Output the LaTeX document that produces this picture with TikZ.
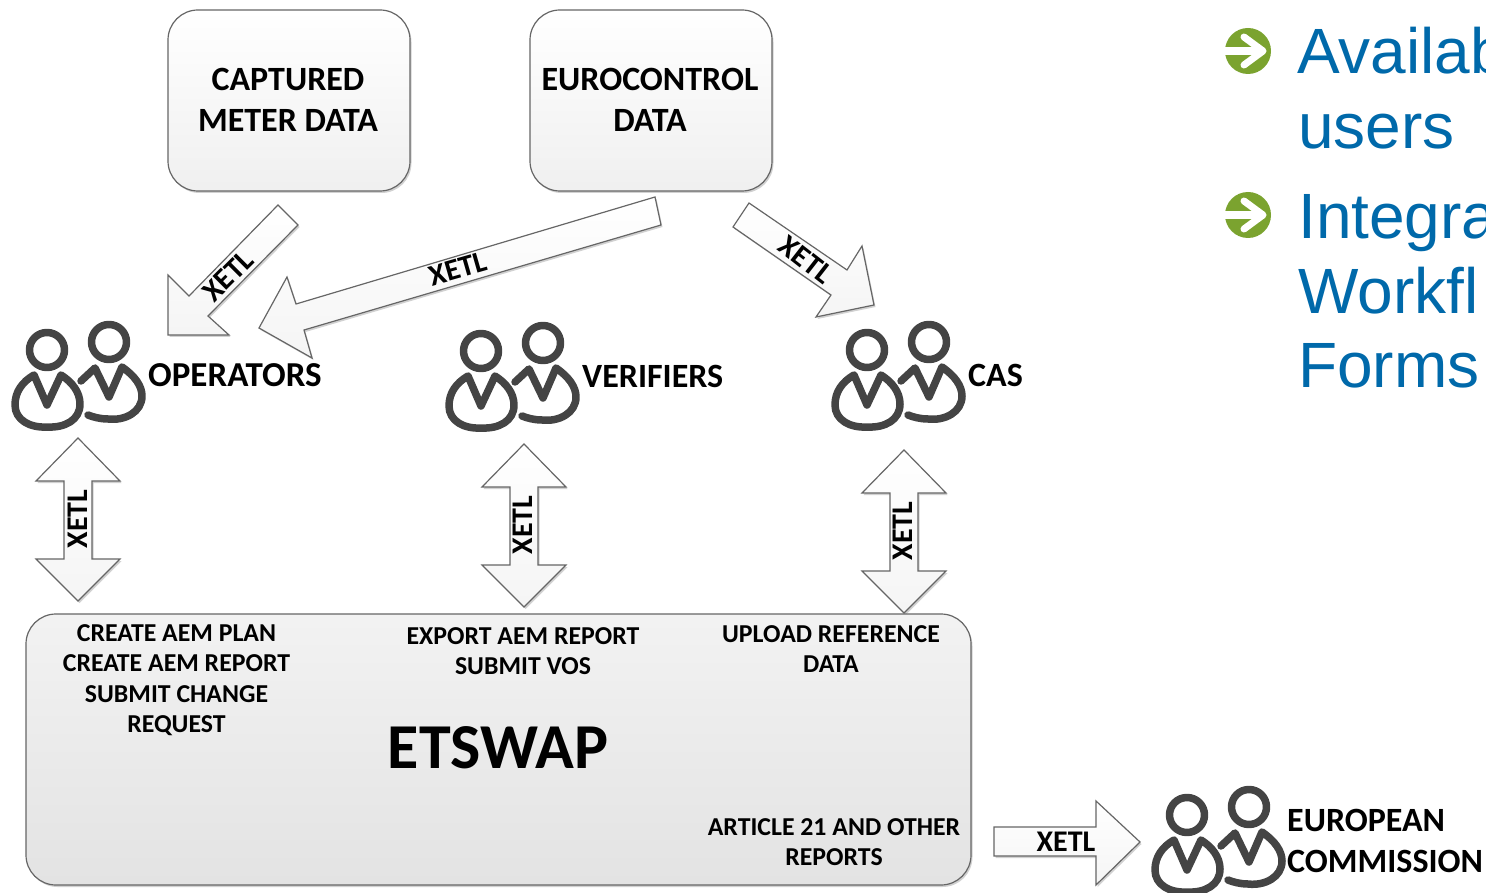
\documentclass[tikz,border=0pt]{standalone}
\usepackage{fontspec}
\setmainfont{Carlito}
\newfontfamily\bluefont{Liberation Sans}
\usetikzlibrary{shadows}
\definecolor{edgegray}{HTML}{666666}
\definecolor{mangray}{HTML}{444444}
\definecolor{bulletgreen}{HTML}{7BA32F}
\definecolor{bulletblue}{HTML}{0069AA}
\tikzset{
  softshadow/.style={general shadow={shadow xshift=1.5pt,shadow yshift=-2pt,fill=black!18}},
  datanode/.style={draw=edgegray,line width=1.2pt,rounded corners=30pt,top color=white,bottom color=black!6,softshadow},
  blockarrow/.style={draw=edgegray,line width=1.2pt,line join=miter,top color=white,bottom color=black!4,softshadow},
  mainbox/.style={draw=edgegray,line width=1.2pt,rounded corners=30pt,top color=black!5,bottom color=black!11,softshadow},
  biglabel/.style={font=\bfseries\fontsize{34}{41}\selectfont,inner sep=0pt,align=center,text=black},
  smalllabel/.style={font=\bfseries\fontsize{25.8}{30.5}\selectfont,inner sep=0pt,align=center,text=black},
  xetl/.style={font=\bfseries\fontsize{30}{30}\selectfont,inner sep=0pt},
  man/.style={draw=mangray,line width=7.5pt,line join=round,line cap=round},
  bullettext/.style={font=\bluefont\fontsize{64}{64}\selectfont,text=bulletblue,inner sep=0pt,anchor=base west}
}
\newcommand{\people}[2]{%
\begin{scope}[shift={(#1,#2)}]
  \draw[man] (47,350) circle (17.5);
  \draw[man] (109,342) circle (17.5);
  \draw[man] (34,375) .. controls (22,382) and (15,392) .. (15,405)
     .. controls (15,420) and (30,428) .. (47,427)
     .. controls (65,428) and (80,420) .. (80,404)
     .. controls (80,392) and (72,382) .. (61,375) -- (47,405) -- cycle;
  \draw[man] (81,381) -- (95,368) -- (109,397) -- (122,367)
     .. controls (135,376) and (142,386) .. (142,396)
     .. controls (142,412) and (125,421) .. (108,419)
     .. controls (100,419) and (93,417) .. (88,415);
\end{scope}}
\newcommand{\bulletmark}[2]{%
\begin{scope}[shift={(#1,#2)}]
  \fill[bulletgreen] (0,0) circle (23);
  \draw[white,line width=7pt,line cap=round,line join=round] (-4,-14) -- (15,0) -- (-4,14);
  \draw[white,line width=8pt] (-23,0) -- (12,0);
\end{scope}}
\begin{document}
\begin{tikzpicture}[x=1pt,y=-1pt]
\useasboundingbox (0,0) rectangle (1486,893);
\clip (0,0) rectangle (1486,893);
% source boxes
\path[datanode] (168,10) rectangle (410,191);
\path[datanode] (530,10) rectangle (772,191);
\node[biglabel] (captured) at (288,99.5) {CAPTURED\\METER DATA};
\node[biglabel] (eurocontrol) at (650,99.5) {EUROCONTROL\\DATA};
% slanted arrows
\path[blockarrow] (278,205) -- (298,225) -- (208,316) -- (229,335) -- (168,335) -- (168,275) -- (189,296) -- cycle;
\node[xetl,rotate=45] (xa) at (228,276) {XETL};
\path[blockarrow] (655,197) -- (661,225) -- (304,330) -- (312,358) -- (259,328) -- (287,277) -- (296,304) -- cycle;
\node[xetl,rotate=16] (xb) at (458,269) {XETL};
\path[blockarrow] (749,203) -- (733,227) -- (831,295) -- (816,317) -- (874,305) -- (862,246) -- (847,270) -- cycle;
\node[xetl,rotate=-38] (xc) at (806,260) {XETL};
% people
\people{0}{0}
\people{434}{1}
\people{820}{0}
\people{1140}{465}
\node[biglabel,anchor=west] (operators) at (148,375) {\fontsize{35}{41}\selectfont OPERATORS};
\node[biglabel,anchor=west] (verifiers) at (582,376) {VERIFIERS};
\node[biglabel,anchor=west] (cas) at (968,375) {CAS};
\node[biglabel,anchor=west,align=left] (ec) at (1287,840.5) {EUROPEAN\\COMMISSION};
% vertical double arrows
\newcommand{\updown}[3]{\path[blockarrow] (#1,#2) -- (#1+42,#2+43) -- (#1+14,#2+43) -- (#1+14,#3-42) -- (#1+42,#3-42) -- (#1,#3) -- (#1-42,#3-42) -- (#1-14,#3-42) -- (#1-14,#2+43) -- (#1-42,#2+43) -- cycle;}
\updown{78}{438}{601}
\updown{524}{444}{607}
\updown{904}{450}{613}
\node[xetl,rotate=90] (x1) at (78,519) {XETL};
\node[xetl,rotate=90] (x2) at (523,525) {XETL};
\node[xetl,rotate=90] (x3) at (903,531) {XETL};
% main box
\path[mainbox] (26,614) rectangle (971,885);
\node[smalllabel] (t1) at (176.5,680) {CREATE AEM PLAN\\CREATE AEM REPORT\\SUBMIT CHANGE\\REQUEST};
\node[smalllabel,font=\bfseries\fontsize{25.8}{30}\selectfont] (t2) at (523,651) {EXPORT AEM REPORT\\SUBMIT VOS};
\node[smalllabel,font=\bfseries\fontsize{25.8}{30}\selectfont] (t3) at (831,649) {UPLOAD REFERENCE\\DATA};
\node[smalllabel,font=\bfseries\fontsize{25.8}{30}\selectfont] (t4) at (834,842) {ARTICLE 21 AND OTHER\\REPORTS};
\node[inner sep=0pt,font=\bfseries\fontsize{64}{64}\selectfont] (etswap) at (498,748) {ETSWAP};
% export arrow
\path[blockarrow] (994,827) -- (1096,827) -- (1096,801) -- (1140,842) -- (1096,885) -- (1096,856) -- (994,856) -- cycle;
\node[xetl] (x4) at (1066,842) {XETL};
% bullets
\bulletmark{1248}{51}
\bulletmark{1248}{215}
\node[bullettext] (b1) at (1297,74) {Availab};
\node[bullettext] (b2) at (1298,149) {users};
\node[bullettext] (b3) at (1298,239) {Integra};
\node[bullettext] (b4) at (1298,313) {Workfl};
\node[bullettext] (b5) at (1298,387) {Forms};
\end{tikzpicture}
\end{document}
